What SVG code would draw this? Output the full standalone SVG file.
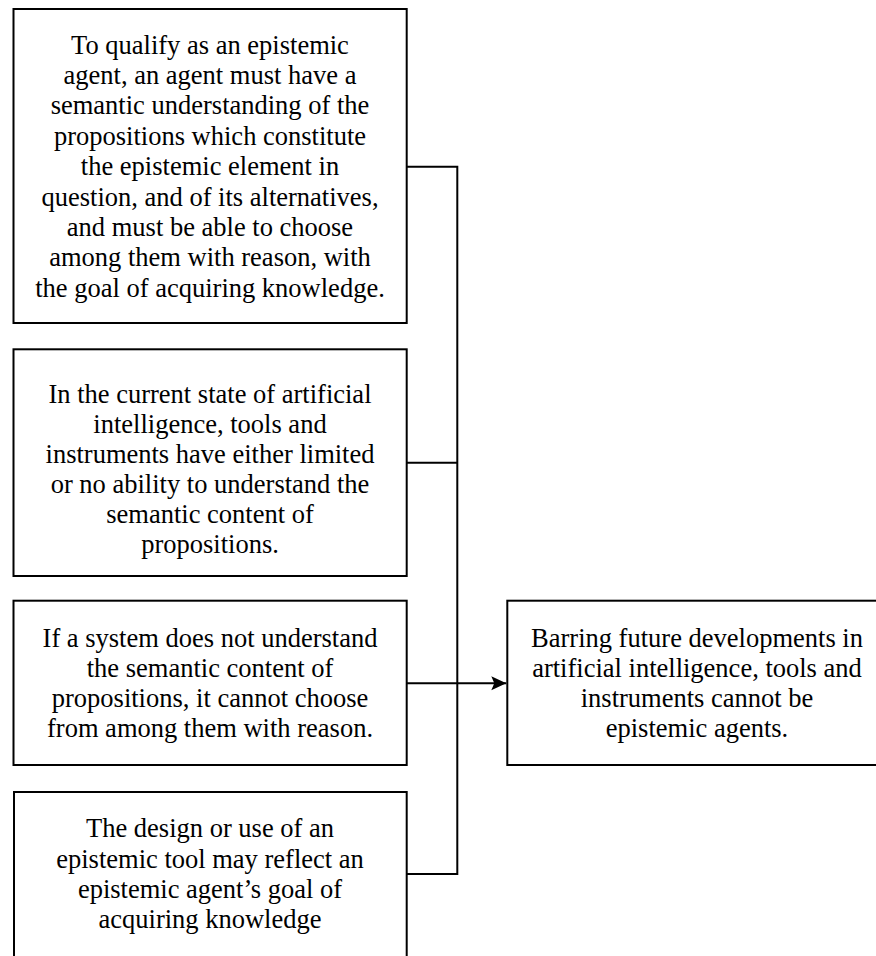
<svg xmlns="http://www.w3.org/2000/svg" width="876" height="956" viewBox="0 0 876 956">
<style>
.box{fill:#fff;stroke:#000;stroke-width:2}
.t{font-family:"Liberation Serif","Times New Roman",serif;font-size:26.5px;fill:#000;text-anchor:middle}
.c{fill:none;stroke:#000;stroke-width:2}
</style>
<defs>
<marker id="arr" markerUnits="userSpaceOnUse" markerWidth="18" markerHeight="16" refX="16" refY="8" orient="auto">
<path d="M16,8 L1,1 L4,8 L1,15 Z" fill="#000"/>
</marker>
</defs>
<rect width="876" height="956" fill="#fff"/>
<g id="connectors">
<path class="c" d="M407,166.7 H457.3 V874 H407"/>
<path class="c" d="M407,462.7 H457.3"/>
<path class="c" d="M407,683.3 H506.3" marker-end="url(#arr)"/>
</g>
<g id="n1">
<rect class="box" x="13.5" y="9" width="393.2" height="314"/>
<text class="t"><tspan x="210" y="53.5">To qualify as an epistemic</tspan><tspan x="210" y="83.9">agent, an agent must have a</tspan><tspan x="210" y="114.3">semantic understanding of the</tspan><tspan x="210" y="144.7">propositions which constitute</tspan><tspan x="210" y="175.1">the epistemic element in</tspan><tspan x="210" y="205.5">question, and of its alternatives,</tspan><tspan x="210" y="235.9">and must be able to choose</tspan><tspan x="210" y="266.3">among them with reason, with</tspan><tspan x="210" y="296.7">the goal of acquiring knowledge.</tspan></text>
</g>
<g id="n2">
<rect class="box" x="13.5" y="349.3" width="393.2" height="226.7"/>
<text class="t"><tspan x="210" y="402.7">In the current state of artificial</tspan><tspan x="210" y="432.7">intelligence, tools and</tspan><tspan x="210" y="462.7">instruments have either limited</tspan><tspan x="210" y="492.7">or no ability to understand the</tspan><tspan x="210" y="522.7">semantic content of</tspan><tspan x="210" y="552.7">propositions.</tspan></text>
</g>
<g id="n3">
<rect class="box" x="13.5" y="600.7" width="393.2" height="164.3"/>
<text class="t"><tspan x="210" y="647.3">If a system does not understand</tspan><tspan x="210" y="677.1">the semantic content of</tspan><tspan x="210" y="706.9">propositions, it cannot choose</tspan><tspan x="210" y="736.7">from among them with reason.</tspan></text>
</g>
<g id="n4">
<rect class="box" x="507.3" y="600.7" width="382" height="164.3"/>
<text class="t"><tspan x="697" y="647.3">Barring future developments in</tspan><tspan x="697" y="677.1">artificial intelligence, tools and</tspan><tspan x="697" y="706.9">instruments cannot be</tspan><tspan x="697" y="736.7">epistemic agents.</tspan></text>
</g>
<g id="n5">
<rect class="box" x="14" y="792" width="392.7" height="200"/>
<text class="t"><tspan x="210" y="837.3">The design or use of an</tspan><tspan x="210" y="867.6">epistemic tool may reflect an</tspan><tspan x="210" y="897.9">epistemic agent’s goal of</tspan><tspan x="210" y="928.2">acquiring knowledge</tspan></text>
</g>
</svg>
